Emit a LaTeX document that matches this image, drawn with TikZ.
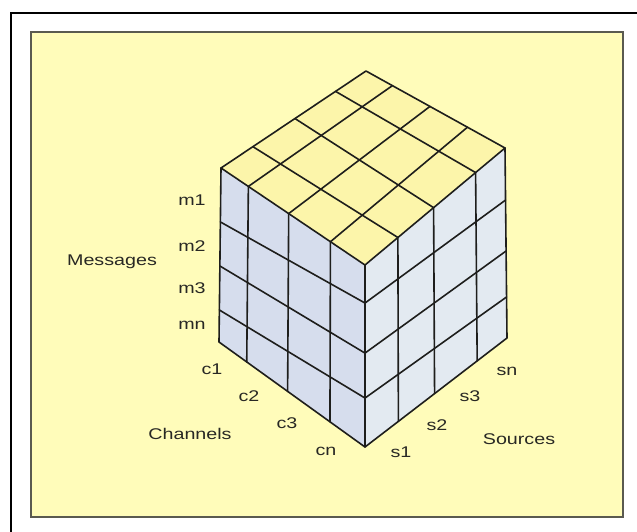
\documentclass[tikz,border=0pt]{standalone}
\usepackage{fontspec}
\setmainfont{Liberation Sans}
\newfontfamily\lblfont[FakeStretch=1.27]{Liberation Sans}
\usetikzlibrary{calc}
\definecolor{bgyellow}{RGB}{255,252,186}
\definecolor{topyellow}{RGB}{252,245,170}
\definecolor{leftblue}{RGB}{214,221,237}
\definecolor{rightblue}{RGB}{227,234,241}
\definecolor{gridline}{RGB}{30,30,28}
\definecolor{labelgray}{RGB}{40,40,36}
\definecolor{boxedge}{RGB}{90,90,80}
\begin{document}
\begin{tikzpicture}[x=1pt,y=-1pt,
  lbl/.style={font=\lblfont\fontsize{15.5}{18}\selectfont, text=labelgray, inner sep=0pt, anchor=center},
  gridln/.style={draw=gridline, line width=1.6pt, line join=round, line cap=round}]
\useasboundingbox (0,0) rectangle (637,531);
\clip (0,0) rectangle (637,531);
\fill[white] (0,0) rectangle (637,531);
\draw[line width=2.5pt, black] (11,13) rectangle (660,560);
\draw[fill=bgyellow, draw=boxedge, line width=1.3pt] (31,32) rectangle (623,517);
% cube corners
\coordinate (N) at (365,265);
\coordinate (L) at (221,168);
\coordinate (R) at (505,148);
\coordinate (B) at (366,71);
\coordinate (NB) at (365,447);
\coordinate (LB) at (219,342);
\coordinate (RB) at (507,338);
% faces
\fill[leftblue] (L) -- (N) -- (NB) -- (LB) -- cycle;
\fill[rightblue] (N) -- (R) -- (RB) -- (NB) -- cycle;
\fill[topyellow] (N) -- (R) -- (B) -- (L) -- cycle;
% left face grid
\foreach \f in {0.19,0.47,0.76}
  \draw[gridln] ($(L)!\f!(N)$) -- ($(LB)!\f!(NB)$);
\foreach \a/\b in {0.31/0.209,0.563/0.484,0.816/0.731}
  \draw[gridln] ($(L)!\a!(LB)$) -- ($(N)!\b!(NB)$);
% right face grid
\foreach \f in {0.235,0.49,0.79}
  \draw[gridln] ($(N)!\f!(R)$) -- ($(NB)!\f!(RB)$);
\foreach \a/\b in {0.209/0.274,0.484/0.542,0.731/0.784}
  \draw[gridln] ($(N)!\a!(NB)$) -- ($(R)!\b!(RB)$);
% top face grid
\foreach \a/\b in {0.19/0.19,0.47/0.46,0.76/0.73}
  \draw[gridln] ($(L)!\a!(N)$) -- ($(B)!\b!(R)$);
\foreach \a/\b in {0.235/0.22,0.49/0.51,0.79/0.79}
  \draw[gridln] ($(N)!\a!(R)$) -- ($(L)!\b!(B)$);
% outline
\draw[gridln] (L) -- (N) -- (R) -- (B) -- cycle;
\draw[gridln] (N) -- (NB);
\draw[gridln] (L) -- (LB) -- (NB) -- (RB) -- (R);
% labels
\node[lbl] (m1) at (192,200) {m1};
\node[lbl] (m2) at (192,246) {m2};
\node[lbl] (m3) at (192,288) {m3};
\node[lbl] (mn) at (192,325) {mn};
\node[lbl] (msg) at (112,262) {Messages};
\node[lbl] (c1) at (212,369) {c1};
\node[lbl] (c2) at (249,396) {c2};
\node[lbl] (c3) at (287,423) {c3};
\node[lbl] (cn) at (326,451) {cn};
\node[lbl] (chan) at (190,434) {Channels};
\node[lbl] (s1) at (401,452) {s1};
\node[lbl] (s2) at (437,425) {s2};
\node[lbl] (s3) at (470,396) {s3};
\node[lbl] (sn) at (507,371) {sn};
\node[lbl] (src) at (519,439) {Sources};
\end{tikzpicture}
\end{document}
